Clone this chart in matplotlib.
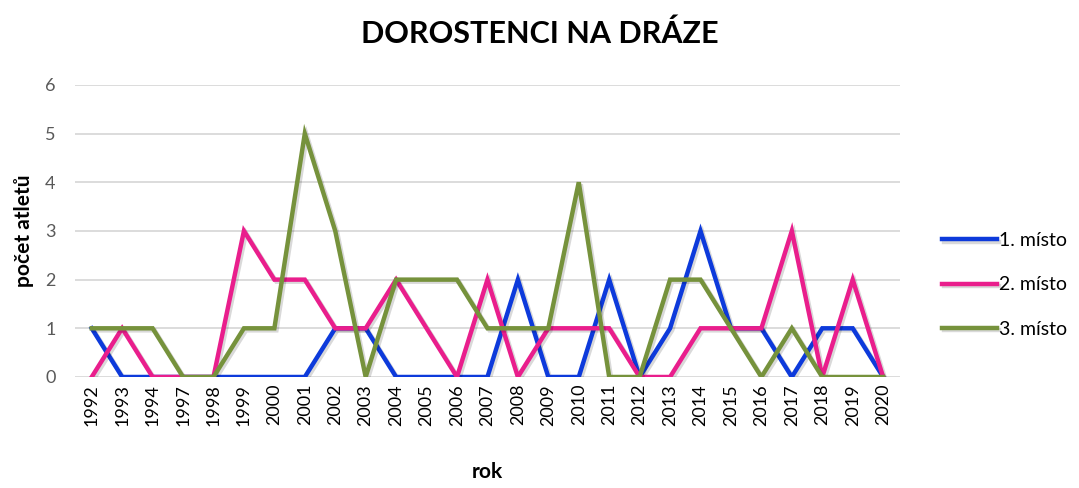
import matplotlib.pyplot as plt
import matplotlib.patheffects as pe

plt.rcParams['font.family'] = ['Lato', 'DejaVu Sans']

roky = ['1992', '1993', '1994', '1997', '1998', '1999', '2000', '2001', '2002', '2003',
        '2004', '2005', '2006', '2007', '2008', '2009', '2010', '2011', '2012', '2013',
        '2014', '2015', '2016', '2017', '2018', '2019', '2020']
misto1 = [1, 0, 0, 0, 0, 0, 0, 0, 1, 1, 0, 0, 0, 0, 2, 0, 0, 2, 0, 1, 3, 1, 1, 0, 1, 1, 0]
misto2 = [0, 1, 0, 0, 0, 3, 2, 2, 1, 1, 2, 1, 0, 2, 0, 1, 1, 1, 0, 0, 1, 1, 1, 3, 0, 2, 0]
misto3 = [1, 1, 1, 0, 0, 1, 1, 5, 3, 0, 2, 2, 2, 1, 1, 1, 4, 0, 0, 2, 2, 1, 0, 1, 0, 0, 0]

fig = plt.figure(figsize=(10.79, 4.88), dpi=100)
ax = fig.add_axes([0.0695, 0.2275, 0.7645, 0.5985])

shadow = [pe.SimpleLineShadow(offset=(1.5, -1.5), alpha=0.15, rho=0.5), pe.Normal()]
x = range(len(roky))
ax.plot(x, misto1, color='#0D3ADB', lw=3.2, label='1. místo', path_effects=shadow, solid_joinstyle='miter')
ax.plot(x, misto2, color='#E91E8C', lw=3.2, label='2. místo', path_effects=shadow, solid_joinstyle='miter')
ax.plot(x, misto3, color='#76923C', lw=3.2, label='3. místo', path_effects=shadow, solid_joinstyle='miter')

ax.set_xlim(-0.55, len(roky) - 0.45)
ax.set_ylim(0, 6)
ax.set_yticks(range(7))
ax.set_xticks(list(x))
ax.set_xticklabels(roky, rotation=90, fontsize=13, color='#000000')
ax.tick_params(axis='y', labelsize=13, labelcolor='#595959', length=0, pad=14)
ax.tick_params(axis='x', length=0, pad=5)
ax.grid(axis='y', color='#D9D9D9', lw=1.3)
ax.set_axisbelow(True)
for s in ax.spines.values():
    s.set_visible(False)

ax.set_ylabel('počet atletů', fontsize=15, fontweight='bold', labelpad=8)
ax.set_xlabel('rok', fontsize=15, fontweight='bold', labelpad=26)
fig.suptitle('DOROSTENCI NA DRÁZE', fontsize=22, fontweight='bold', y=0.96)

ax.legend(loc='center left', bbox_to_anchor=(1.03, 0.315), frameon=False, fontsize=14,
          handlelength=2.8, handletextpad=0.1, labelspacing=1.4)

fig.savefig('out.png', dpi=100)
